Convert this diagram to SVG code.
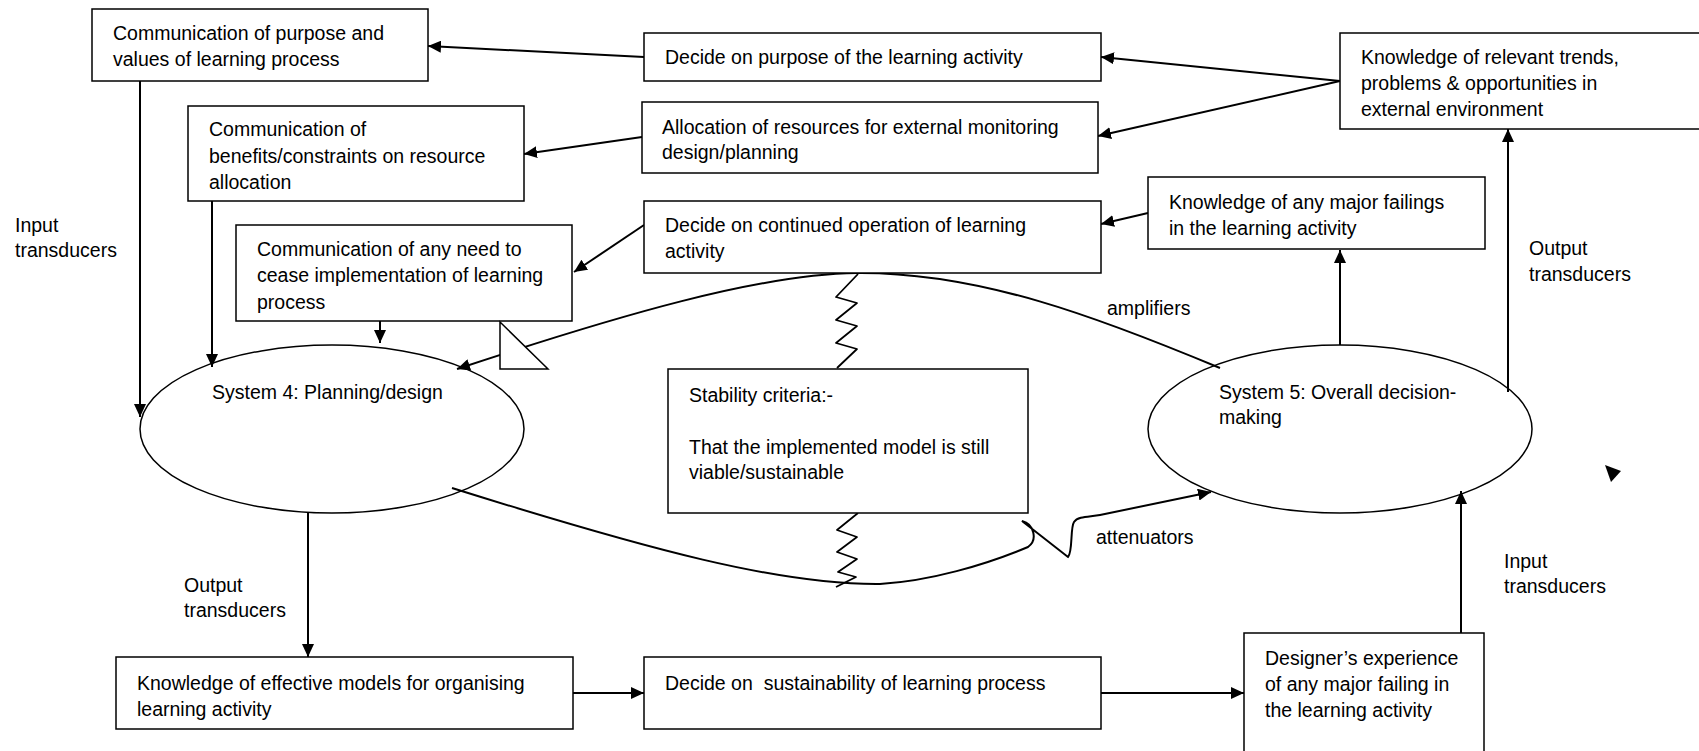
<svg xmlns="http://www.w3.org/2000/svg" width="1699" height="751" viewBox="0 0 1699 751">
<style>
.box{fill:#fff;stroke:#000;stroke-width:1.5}
.ell{fill:#fff;stroke:#000;stroke-width:1.5}
.t{font-family:"Liberation Sans",Arial,sans-serif;font-size:19.5px;fill:#000}
.c{fill:none;stroke:#000;stroke-width:2}
.z{fill:none;stroke:#000;stroke-width:1.8;stroke-linejoin:round}
</style>
<defs>
<marker id="ah" markerUnits="userSpaceOnUse" markerWidth="14" markerHeight="12" refX="13" refY="6" orient="auto">
<path d="M0,0 L13,6 L0,12 z" fill="#000"/>
</marker>
</defs>
<rect width="1699" height="751" fill="#fff"/>

<g id="system4">
<ellipse class="ell" cx="332" cy="429" rx="192" ry="84"/>
<text class="t" x="212" y="399">System 4: Planning/design</text>
</g>
<g id="system5">
<ellipse class="ell" cx="1340" cy="429" rx="192" ry="84"/>
<text class="t" x="1219" y="399">System 5: Overall decision-</text>
<text class="t" x="1219" y="424">making</text>
</g>

<g id="connectors">
<path class="c" d="M644,57 L428,46" marker-end="url(#ah)"/>
<path class="c" d="M1340,81 L1101,57" marker-end="url(#ah)"/>
<path class="c" d="M1340,81 L1098,136" marker-end="url(#ah)"/>
<path class="c" d="M642,137 L524,154" marker-end="url(#ah)"/>
<path class="c" d="M1148,213 L1101,224" marker-end="url(#ah)"/>
<path class="c" d="M644,225 L574,272" marker-end="url(#ah)"/>
<path class="c" d="M140,81 L140,417" marker-end="url(#ah)"/>
<path class="c" d="M212,201 L212,367" marker-end="url(#ah)"/>
<path class="c" d="M380,321 L380,343" marker-end="url(#ah)"/>
<path class="c" d="M308,513 L308,657" marker-end="url(#ah)"/>
<path class="c" d="M573,693 L644,693" marker-end="url(#ah)"/>
<path class="c" d="M1101,693 L1244,693" marker-end="url(#ah)"/>
<path class="c" d="M1461,633 L1461,491" marker-end="url(#ah)"/>
<path class="c" d="M1340,345 L1340,250" marker-end="url(#ah)"/>
<path class="c" d="M1508,392 L1508,129" marker-end="url(#ah)"/>
<path class="c" d="M1220,368 C1100,318 980,272 857,273 C760,274 620,315 457,369" marker-end="url(#ah)"/>
<path class="c" d="M452,488 C650,550 780,585 880,584 C930,581 985,565 1028,547 C1038,540 1034,524 1022,521 L1068,557 C1073,552 1070,528 1074,522 C1078,516 1090,517 1100,515 L1211,492" marker-end="url(#ah)"/>
<polyline class="z" points="858,274 836,297 857,303 836,320 857,326 836,343 857,349 837,368"/>
<polyline class="z" points="858,513 837,530 857,537 837,552 857,559 838,572 856,577 836,587"/>
</g>

<g id="box-purpose-values">
<rect class="box" x="92" y="9" width="336" height="72"/>
<text class="t" x="113" y="40">Communication of purpose and</text>
<text class="t" x="113" y="66">values of learning process</text>
</g>
<g id="box-decide-purpose">
<rect class="box" x="644" y="33" width="457" height="48"/>
<text class="t" x="665" y="64">Decide on purpose of the learning activity</text>
</g>
<g id="box-knowledge-trends">
<rect class="box" x="1340" y="33" width="370" height="96"/>
<text class="t" x="1361" y="64">Knowledge of relevant trends,</text>
<text class="t" x="1361" y="90">problems &amp; opportunities in</text>
<text class="t" x="1361" y="116">external environment</text>
</g>
<g id="box-allocation">
<rect class="box" x="642" y="102" width="456" height="71"/>
<text class="t" x="662" y="134">Allocation of resources for external monitoring</text>
<text class="t" x="662" y="159">design/planning</text>
</g>
<g id="box-benefits">
<rect class="box" x="188" y="106" width="336" height="95"/>
<text class="t" x="209" y="136">Communication of</text>
<text class="t" x="209" y="163">benefits/constraints on resource</text>
<text class="t" x="209" y="189">allocation</text>
</g>
<g id="box-decide-continued">
<rect class="box" x="644" y="201" width="457" height="72"/>
<text class="t" x="665" y="232">Decide on continued operation of learning</text>
<text class="t" x="665" y="258">activity</text>
</g>
<g id="box-major-failings">
<rect class="box" x="1148" y="177" width="337" height="72"/>
<text class="t" x="1169" y="209">Knowledge of any major failings</text>
<text class="t" x="1169" y="235">in the learning activity</text>
</g>
<g id="box-cease">
<rect class="box" x="236" y="225" width="336" height="96"/>
<text class="t" x="257" y="256">Communication of any need to</text>
<text class="t" x="257" y="282">cease implementation of learning</text>
<text class="t" x="257" y="309">process</text>
</g>
<g id="triangle">
<polygon points="500,322 500,369 548,369" fill="#fff" stroke="#000" stroke-width="1.5"/>
</g>
<g id="box-stability">
<rect class="box" x="668" y="369" width="360" height="144"/>
<text class="t" x="689" y="402">Stability criteria:-</text>
<text class="t" x="689" y="454">That the implemented model is still</text>
<text class="t" x="689" y="479">viable/sustainable</text>
</g>
<g id="box-effective-models">
<rect class="box" x="116" y="657" width="457" height="72"/>
<text class="t" x="137" y="690">Knowledge of effective models for organising</text>
<text class="t" x="137" y="716">learning activity</text>
</g>
<g id="box-sustainability">
<rect class="box" x="644" y="657" width="457" height="72"/>
<text class="t" x="665" y="690" xml:space="preserve">Decide on  sustainability of learning process</text>
</g>
<g id="box-designer">
<rect class="box" x="1244" y="633" width="240" height="130"/>
<text class="t" x="1265" y="665">Designer’s experience</text>
<text class="t" x="1265" y="691">of any major failing in</text>
<text class="t" x="1265" y="717">the learning activity</text>
</g>

<g id="labels">
<text class="t" x="15" y="232">Input</text>
<text class="t" x="15" y="257">transducers</text>
<text class="t" x="1529" y="255">Output</text>
<text class="t" x="1529" y="281">transducers</text>
<text class="t" x="1107" y="315">amplifiers</text>
<text class="t" x="1096" y="544">attenuators</text>
<text class="t" x="1504" y="568">Input</text>
<text class="t" x="1504" y="593">transducers</text>
<text class="t" x="184" y="592">Output</text>
<text class="t" x="184" y="617">transducers</text>
</g>
<g id="stray-arrowhead">
<polygon points="1605,465 1621,471 1611,482" fill="#000"/>
</g>
</svg>
